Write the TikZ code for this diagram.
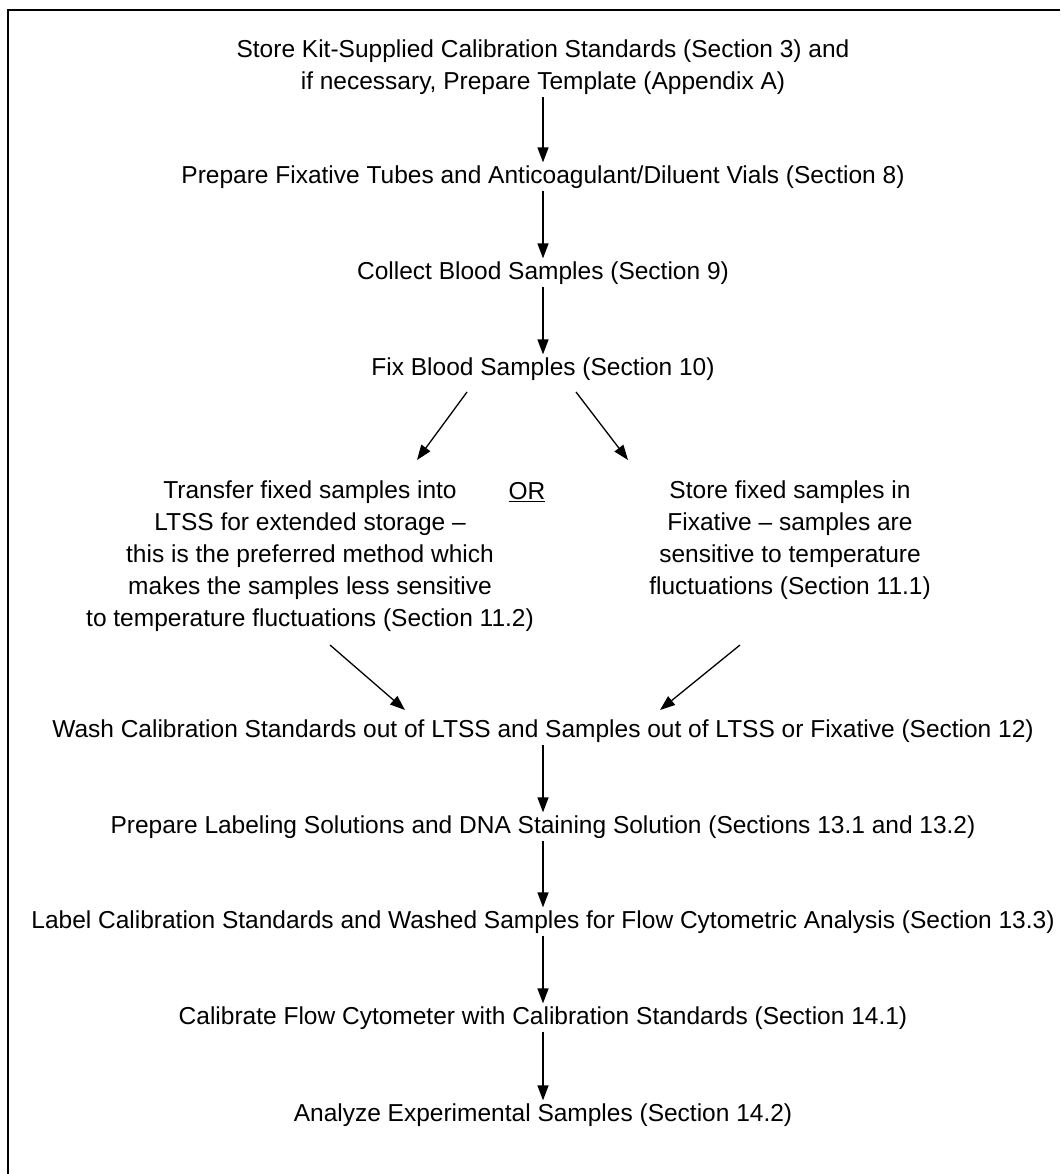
\documentclass[tikz,border=0pt]{standalone}
\usepackage{fontspec}
\setmainfont{Liberation Sans}
\usetikzlibrary{arrows.meta,calc}
\begin{document}
\begin{tikzpicture}[x=1pt,y=-1pt,
  txt/.style={align=center,font=\fontsize{24.5}{32}\selectfont,inner sep=0pt},
  arr/.style={-{Triangle[length=15pt,width=11pt]},line width=1.3pt,shorten <=2pt,shorten >=3pt}]
\useasboundingbox (0,0) rectangle (1060,1174);
\draw[line width=2pt] (1060,10) -- (8,10) -- (8,1174);
\node[txt] (n1) at (543,67.5) {Store Kit-Supplied Calibration Standards (Section 3) and\\if necessary, Prepare Template (Appendix A)};
\node[txt] (n2) at (543,177) {Prepare Fixative Tubes and Anticoagulant/Diluent Vials (Section 8)};
\node[txt] (n3) at (543,273) {Collect Blood Samples (Section 9)};
\node[txt] (n4) at (543,369) {Fix Blood Samples (Section 10)};
\node[txt] (lt) at (310,556) {Transfer fixed samples into\\LTSS for extended storage --\\this is the preferred method which\\makes the samples less sensitive\\to temperature fluctuations (Section 11.2)};
\node[txt] (or) at (527,492) {\underline{OR}};
\node[txt] (rt) at (790,540) {Store fixed samples in\\Fixative -- samples are\\sensitive to temperature\\fluctuations (Section 11.1)};
\node[txt] (n5) at (543,731) {Wash Calibration Standards out of LTSS and Samples out of LTSS or Fixative (Section 12)};
\node[txt] (n6) at (543,827) {Prepare Labeling Solutions and DNA Staining Solution (Sections 13.1 and 13.2)};
\node[txt] (n7) at (543,922) {Label Calibration Standards and Washed Samples for Flow Cytometric Analysis (Section 13.3)};
\node[txt] (n8) at (543,1018) {Calibrate Flow Cytometer with Calibration Standards (Section 14.1)};
\node[txt] (n9) at (543,1115) {Analyze Experimental Samples (Section 14.2)};
\draw[arr] (n1.south) -- (n2.north);
\draw[arr] (n2.south) -- (n3.north);
\draw[arr] (n3.south) -- (n4.north);
\draw[arr,shorten <=0pt,shorten >=0pt] ($(n4)+(-76,23)$) -- ($(lt)+(107,-96)$);
\draw[arr,shorten <=0pt,shorten >=0pt] ($(n4)+(33,23)$) -- ($(rt)+(-162,-80)$);
\draw[arr,shorten <=0pt,shorten >=0pt] ($(lt)+(20,89)$) -- ($(n5)+(-138,-21)$);
\draw[arr,shorten <=0pt,shorten >=0pt] ($(rt)+(-50,105)$) -- ($(n5)+(117,-21)$);
\draw[arr] (n5.south) -- (n6.north);
\draw[arr] (n6.south) -- (n7.north);
\draw[arr] (n7.south) -- (n8.north);
\draw[arr] (n8.south) -- (n9.north);
\end{tikzpicture}
\end{document}
